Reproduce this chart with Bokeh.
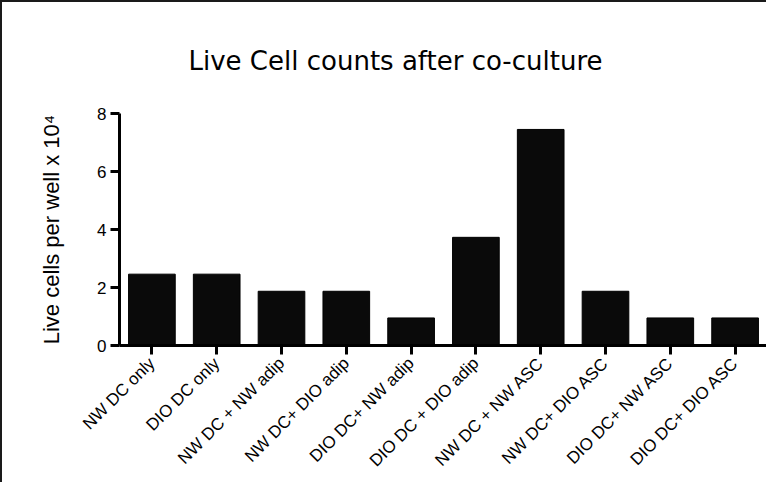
import math
from bokeh.plotting import figure
from bokeh.models import FactorRange, Range1d, FixedTicker
from bokeh.embed import file_html
from bokeh.resources import INLINE

categories = ["NW DC only", "DIO DC only", "NW DC + NW adip", "NW DC+ DIO adip",
              "DIO DC+ NW adip", "DIO DC + DIO adip", "NW DC + NW ASC",
              "NW DC+ DIO ASC", "DIO DC+ NW ASC", "DIO DC+ DIO ASC"]
counts = [2.46, 2.46, 1.87, 1.87, 0.95, 3.73, 7.45, 1.87, 0.95, 0.95]
y_ticks = [0, 2, 4, 6, 8]
title_text = "Live Cell counts after co-culture"

FONT = "Liberation Sans"

p = figure(width=766, height=482, output_backend="svg", toolbar_location=None,
           x_range=FactorRange(factors=categories, range_padding=0),
           y_range=Range1d(0, 8),
           min_border_left=117, min_border_right=1, min_border_top=111,
           min_border_bottom=139,
           styles={"border-top": "2px solid #1a1a1a", "border-left": "2px solid #1a1a1a"})

p.title.text = title_text
p.title.text_font = "DejaVu Sans"
p.title.text_font_size = "26px"
p.title.text_font_style = "normal"
p.title.text_color = "black"
p.title.align = "left"
p.title.vertical_align = "top"
p.title.padding = 5
p.title.offset = 64
p.title.standoff = 62

p.vbar(x=categories, top=counts, width=0.72, fill_color="#0a0a0a",
       line_color="#000000", line_width=1)

p.grid.visible = False
p.outline_line_color = None
p.background_fill_color = "white"
p.border_fill_color = "white"

for ax in (p.xaxis[0], p.yaxis[0]):
    ax.axis_line_width = 3
    ax.axis_line_color = "black"
    ax.major_tick_line_width = 3
    ax.major_tick_line_color = "black"
    ax.major_tick_out = 9
    ax.major_tick_in = 0
    ax.minor_tick_line_color = None
    ax.major_label_text_color = "black"
    ax.major_label_text_font = FONT

p.yaxis.ticker = FixedTicker(ticks=y_ticks)
p.yaxis.major_label_text_font_size = "17px"
p.yaxis.major_label_standoff = 4
p.yaxis.axis_label = "Live cells per well x 10\u2074"
p.yaxis.axis_label_text_font = FONT
p.yaxis.axis_label_text_font_size = "22px"
p.yaxis.axis_label_text_font_style = "normal"
p.yaxis.axis_label_text_color = "black"
p.yaxis.axis_label_standoff = 30

p.xaxis.major_label_orientation = math.pi / 4
p.xaxis.major_label_text_font_size = "17px"
p.xaxis.major_label_standoff = 6

open("out.html", "w").write(file_html(p, INLINE))
